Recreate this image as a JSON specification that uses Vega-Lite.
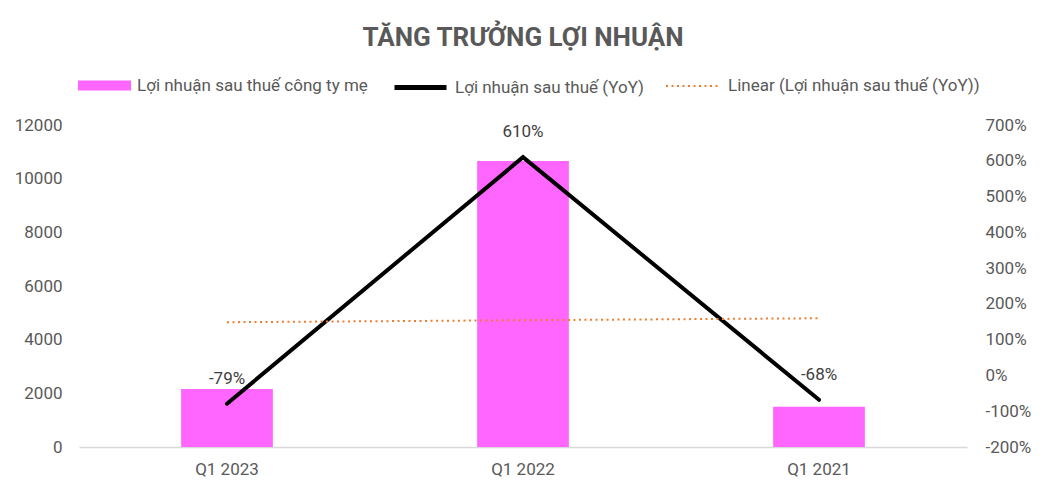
{
  "$schema": "https://vega.github.io/schema/vega-lite/v6.json",
  "width": 888,
  "height": 322,
  "autosize": {"type": "none"},
  "padding": {"left": 79, "top": 125, "right": 80, "bottom": 49},
  "background": "white",
  "title": {
    "text": "TĂNG TRƯỞNG LỢI NHUẬN",
    "font": "Roboto",
    "fontSize": 26,
    "fontWeight": "bold",
    "color": "#595959",
    "anchor": "middle",
    "frame": "group",
    "offset": 8
  },
  "data": {
    "values": [
      {"quy": "Q1 2023", "loi_nhuan": 2160, "yoy": -0.79, "linear": 1.488},
      {"quy": "Q1 2022", "loi_nhuan": 10660, "yoy": 6.10, "linear": 1.543},
      {"quy": "Q1 2021", "loi_nhuan": 1500, "yoy": -0.68, "linear": 1.598}
    ]
  },
  "encoding": {
    "x": {
      "field": "quy",
      "type": "nominal",
      "sort": null,
      "title": null,
      "scale": {"paddingInner": 0.69, "paddingOuter": 0.345},
      "axis": {
        "labelAngle": 0,
        "labelPadding": 14,
        "ticks": false,
        "domainColor": "#d9d9d9",
        "domainWidth": 1.5
      }
    }
  },
  "layer": [
    {
      "mark": {"type": "bar", "color": "#FF66FF"},
      "encoding": {
        "y": {
          "field": "loi_nhuan",
          "type": "quantitative",
          "title": null,
          "scale": {"domain": [0, 12000]},
          "axis": {
            "values": [0, 2000, 4000, 6000, 8000, 10000, 12000],
            "format": "d",
            "grid": false,
            "domain": false,
            "ticks": false,
            "labelPadding": 17,
            "labelOverlap": false
          }
        },
        "fill": {
          "datum": "Lợi nhuận sau thuế công ty mẹ",
          "scale": {"range": ["#FF66FF"]},
          "legend": {
            "orient": "none",
            "legendX": -1,
            "legendY": -66,
            "title": null,
            "symbolType": "M-1,-0.19H1V0.19H-1Z",
            "symbolSize": 2809,
            "symbolStrokeWidth": 0,
            "symbolOpacity": 1,
            "labelOffset": 6
          }
        }
      }
    },
    {
      "encoding": {
        "y": {
          "field": "yoy",
          "type": "quantitative",
          "title": null,
          "scale": {"domain": [-2, 7]},
          "axis": {
            "orient": "right",
            "values": [-2, -1, 0, 1, 2, 3, 4, 5, 6, 7],
            "format": ".0%",
            "grid": false,
            "domain": false,
            "ticks": false,
            "labelPadding": 18,
            "labelOverlap": false
          }
        }
      },
      "layer": [
        {
          "mark": {"type": "line", "color": "black", "strokeWidth": 4, "strokeCap": "round"},
          "encoding": {
            "stroke": {
              "datum": "Lợi nhuận sau thuế (YoY)",
              "scale": {"range": ["black"]},
              "legend": {
                "orient": "none",
                "legendX": 313,
                "legendY": -66,
                "title": null,
                "symbolType": "stroke",
                "symbolSize": 2704,
                "symbolStrokeWidth": 5,
                "labelOffset": 6
              }
            }
          }
        },
        {
          "mark": {"type": "text", "dy": -25, "fontSize": 17, "color": "#404040"},
          "encoding": {
            "text": {"field": "yoy", "type": "quantitative", "format": ".0%"}
          }
        },
        {
          "mark": {"type": "line", "color": "#ED7D31", "strokeWidth": 2, "strokeDash": [2, 3.5]},
          "encoding": {
            "y": {"field": "linear", "type": "quantitative"},
            "strokeDash": {
              "datum": "Linear (Lợi nhuận sau thuế (YoY))",
              "scale": {"range": [[2, 3.5]]},
              "legend": {
                "orient": "none",
                "legendX": 586,
                "legendY": -66,
                "title": null,
                "symbolType": "stroke",
                "symbolSize": 2704,
                "symbolStrokeColor": "#ED7D31",
                "symbolStrokeWidth": 2,
                "labelOffset": 9
              }
            }
          }
        }
      ]
    }
  ],
  "resolve": {"scale": {"y": "independent"}},
  "config": {
    "font": "Roboto",
    "locale": {
      "number": {"decimal": ".", "thousands": ",", "grouping": [3], "currency": ["$", ""], "minus": "-"}
    },
    "view": {"stroke": null},
    "text": {"font": "Roboto"},
    "axis": {"labelFont": "Roboto", "labelFontSize": 17, "labelColor": "#595959"},
    "legend": {"labelFont": "Roboto", "labelFontSize": 17, "labelColor": "#595959", "padding": 0, "labelLimit": 400}
  }
}
